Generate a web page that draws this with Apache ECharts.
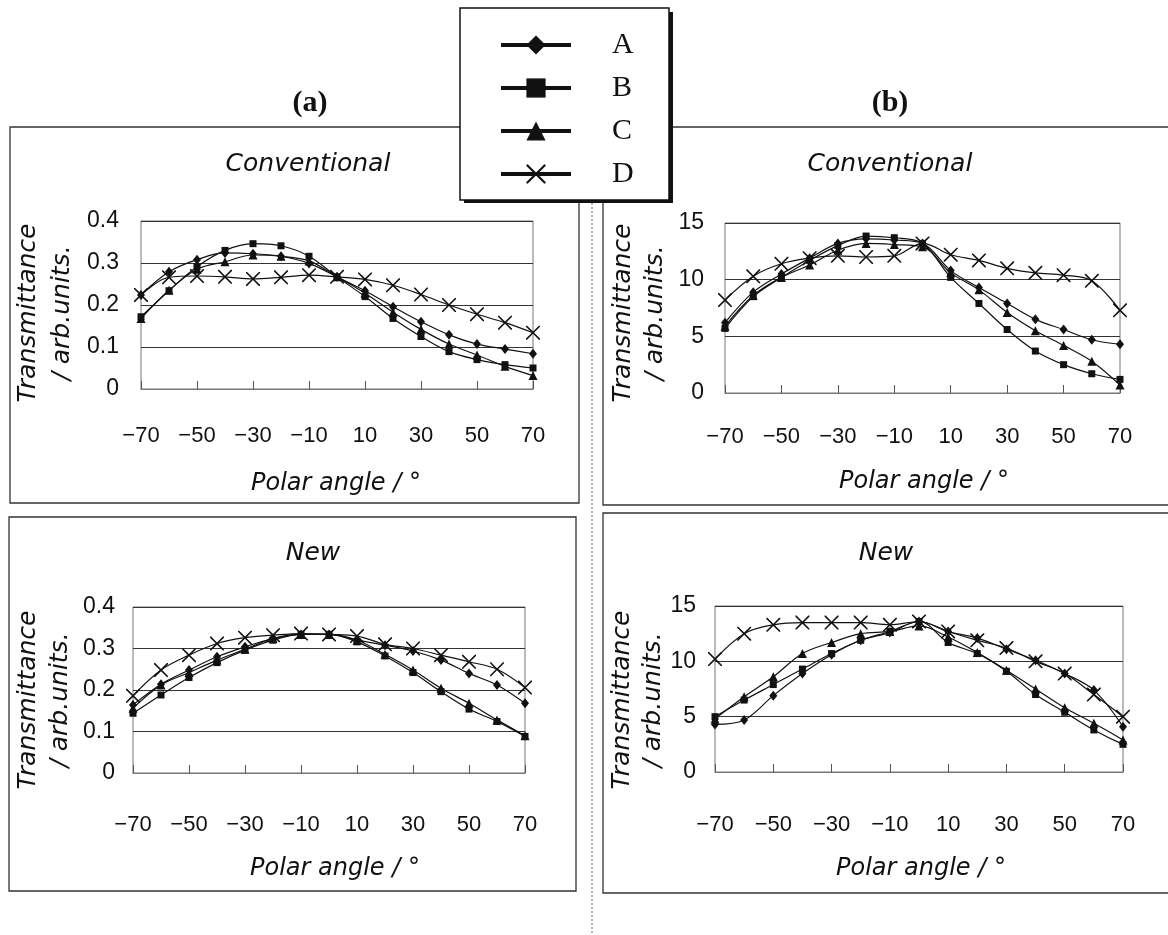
<!DOCTYPE html>
<html>
<head>
<meta charset="utf-8">
<script src="https://cdn.jsdelivr.net/npm/echarts@6/dist/echarts.min.js"></script>
<style>html,body{margin:0;padding:0;background:#fff;}#c{width:1168px;height:935px;}</style>
</head>
<body>
<div id="c"></div>
<script>
// Polar angles (categories)
const angles = [-70,-60,-50,-40,-30,-20,-10,0,10,20,30,40,50,60,70];
const seriesNames = ['A','B','C','D'];

// (a) Conventional
const aConvA = [0.224,0.279,0.308,0.324,0.322,0.316,0.299,0.267,0.234,0.196,0.160,0.129,0.107,0.095,0.084];
const aConvB = [0.172,0.234,0.291,0.330,0.346,0.341,0.316,0.267,0.220,0.168,0.125,0.089,0.070,0.058,0.050];
const aConvC = [0.168,0.235,0.285,0.303,0.319,0.316,0.305,0.267,0.228,0.183,0.142,0.107,0.081,0.054,0.032];
const aConvD = [0.224,0.266,0.269,0.267,0.262,0.266,0.271,0.267,0.261,0.247,0.225,0.200,0.178,0.158,0.134];
// (a) New
const aNewA = [0.164,0.214,0.248,0.280,0.304,0.324,0.334,0.334,0.320,0.308,0.294,0.272,0.240,0.212,0.168];
const aNewB = [0.144,0.188,0.230,0.266,0.296,0.320,0.334,0.334,0.316,0.282,0.242,0.196,0.154,0.124,0.088];
const aNewC = [0.156,0.212,0.242,0.272,0.298,0.324,0.334,0.334,0.320,0.286,0.248,0.204,0.168,0.128,0.090];
const aNewD = [0.186,0.248,0.284,0.312,0.326,0.332,0.336,0.334,0.330,0.310,0.300,0.284,0.268,0.250,0.206];
// (b) Conventional
const bConvA = [6.2,8.9,10.5,11.9,13.2,13.6,13.5,13.2,10.8,9.3,7.9,6.5,5.6,4.7,4.3];
const bConvB = [5.7,8.5,10.2,11.7,13.0,13.85,13.7,13.2,10.2,7.9,5.6,3.7,2.5,1.7,1.2];
const bConvC = [5.9,8.6,10.2,11.3,12.6,13.2,13.1,12.9,10.6,9.1,7.1,5.5,4.2,2.8,0.7];
const bConvD = [8.2,10.3,11.4,11.9,12.1,12.0,12.1,13.2,12.2,11.7,11.0,10.6,10.4,9.9,7.3];
// (b) New
const bNewA = [4.3,4.7,6.9,8.9,10.6,11.9,12.6,13.6,12.7,12.1,11.1,10.1,8.9,7.4,4.1];
const bNewB = [5.0,6.5,7.9,9.3,10.7,11.9,12.7,13.6,11.7,10.7,9.1,7.0,5.4,3.8,2.5];
const bNewC = [4.8,6.8,8.6,10.7,11.7,12.5,12.7,13.2,12.2,10.8,9.2,7.5,5.8,4.4,2.9];
const bNewD = [10.2,12.5,13.3,13.5,13.5,13.5,13.3,13.6,12.7,11.9,11.2,10.0,8.9,7.0,5.0];

// axis ranges / tick labels
const yA = {min:0, max:0.4, interval:0.1};
const yB = {min:0, max:15, interval:5};

const panelData = [
  [aConvA,aConvB,aConvC,aConvD],
  [bConvA,bConvB,bConvC,bConvD],
  [aNewA,aNewB,aNewC,aNewD],
  [bNewA,bNewB,bNewC,bNewD]
];

const INK = '#111';
const xPath = 'path://M0,0 L1.6,0 L10,8.4 L18.4,0 L20,0 L20,1.6 L11.6,10 L20,18.4 L20,20 L18.4,20 L10,11.6 L1.6,20 L0,20 L0,18.4 L8.4,10 L0,1.6 Z';
const sym = {
  A: {symbol:'diamond', size:[8,10]},
  B: {symbol:'rect', size:7},
  C: {symbol:'triangle', size:9},
  D: {symbol:xPath, size:14}
};

const grids = [
  {left:141, top:221, width:392, height:168},
  {left:725, top:223, width:395, height:170},
  {left:133, top:607, width:392, height:166},
  {left:715, top:606, width:408, height:166}
];
const xMargins = [36, 33, 41, 42];
const yMargins = [22, 21, 18, 19];
const yRanges = [yA, yB, yA, yB];

const xAxes = grids.map((g,i) => ({
  type:'category', gridIndex:i, data:angles.map(String), boundaryGap:false,
  axisLine:{show:true, lineStyle:{color:'#777', width:1}},
  axisTick:{show:true, inside:true, interval:1, length:8, lineStyle:{color:'#555'}},
  axisLabel:{interval:1, margin:xMargins[i], fontFamily:'Liberation Sans', fontSize:22, color:INK,
    formatter:v => String(v).replace('-', '\u2212')},
  splitLine:{show:false}
}));
const yAxes = grids.map((g,i) => ({
  type:'value', gridIndex:i, min:yRanges[i].min, max:yRanges[i].max, interval:yRanges[i].interval,
  axisLine:{show:false}, axisTick:{show:false},
  axisLabel:{margin:yMargins[i], fontFamily:'Liberation Sans', fontSize:23, color:INK},
  splitLine:{show:true, lineStyle:{color:'#333', width:1}}
}));

const series = [];
panelData.forEach((arrs, gi) => {
  arrs.forEach((d, si) => {
    const n = seriesNames[si];
    series.push({
      name:n, type:'line', xAxisIndex:gi, yAxisIndex:gi, data:d,
      smooth:0.35, showAllSymbol:true,
      symbol:sym[n].symbol, symbolSize:sym[n].size,
      lineStyle:{color:INK, width:1.2},
      itemStyle:{color:INK, borderColor:INK, borderWidth:0},
      emphasis:{disabled:true}, animation:false, z:3
    });
  });
});

const gridOpts = grids.map(g => Object.assign({show:true, borderColor:'#777', borderWidth:1, backgroundColor:'transparent', containLabel:false}, g));

const italic = {fontFamily:'DejaVu Sans', fontStyle:'italic', fill:INK};
function txt(x, y, text, style, extra) {
  return Object.assign({type:'text', x:x, y:y, z:5,
    style:Object.assign({text:text, align:'center', verticalAlign:'middle'}, style)}, extra||{});
}
function yname(x1, x2, y) {
  return [
    txt(x1, y, 'Transmittance', Object.assign({fontSize:25}, italic), {rotation:Math.PI/2}),
    txt(x2, y, '/ arb.units.', Object.assign({fontSize:25}, italic), {rotation:Math.PI/2})
  ];
}
const frameStyle = {fill:'none', stroke:'#333', lineWidth:1.3};
const graphics = [
  {type:'rect', z:1, shape:{x:10, y:127, width:569, height:376}, style:frameStyle},
  {type:'rect', z:1, shape:{x:603, y:127, width:580, height:378}, style:frameStyle},
  {type:'rect', z:1, shape:{x:9, y:517, width:567, height:374}, style:frameStyle},
  {type:'rect', z:1, shape:{x:603, y:513, width:580, height:380}, style:frameStyle},
  {type:'line', z:1, shape:{x1:592, y1:203, x2:592, y2:935}, style:{stroke:'#666', lineWidth:1, lineDash:[2,2]}},
  txt(310, 103, '(a)', {fontFamily:'Liberation Serif', fontWeight:'bold', fontSize:30, fill:INK}),
  txt(890, 103, '(b)', {fontFamily:'Liberation Serif', fontWeight:'bold', fontSize:30, fill:INK}),
  txt(308, 164, 'Conventional', Object.assign({fontSize:25}, italic)),
  txt(890, 164, 'Conventional', Object.assign({fontSize:25}, italic)),
  txt(313, 553, 'New', Object.assign({fontSize:25}, italic)),
  txt(886, 553, 'New', Object.assign({fontSize:25}, italic)),
  txt(336, 484, 'Polar angle / \u00b0', Object.assign({fontSize:24}, italic)),
  txt(924, 482, 'Polar angle / \u00b0', Object.assign({fontSize:24}, italic)),
  txt(335, 869, 'Polar angle / \u00b0', Object.assign({fontSize:24}, italic)),
  txt(921, 869, 'Polar angle / \u00b0', Object.assign({fontSize:24}, italic)),
  ...yname(28, 62, 313),
  ...yname(623, 655, 313),
  ...yname(28, 60, 700),
  ...yname(622, 653, 700),
  // legend box with shadow
  {type:'rect', z:50, shape:{x:464, y:12, width:209, height:191}, style:{fill:'#111'}},
  {type:'rect', z:51, shape:{x:460, y:8, width:209, height:192}, style:{fill:'#fff', stroke:'#111', lineWidth:1.5}}
];

const chart = echarts.init(document.getElementById('c'), null, {renderer:'canvas'});
chart.setOption({
  animation:false,
  backgroundColor:'#fff',
  grid:gridOpts,
  xAxis:xAxes,
  yAxis:yAxes,
  legend:{
    show:true, z:60, orient:'vertical', left:494, top:25, itemWidth:70, itemHeight:24, itemGap:13,
    selectedMode:false, data:seriesNames,
    lineStyle:{width:4, color:INK},
    textStyle:{fontFamily:'Liberation Serif', fontSize:30, color:INK, padding:[0,0,0,36]}
  },
  graphic:graphics,
  series:series
});
</script>
</body>
</html>
